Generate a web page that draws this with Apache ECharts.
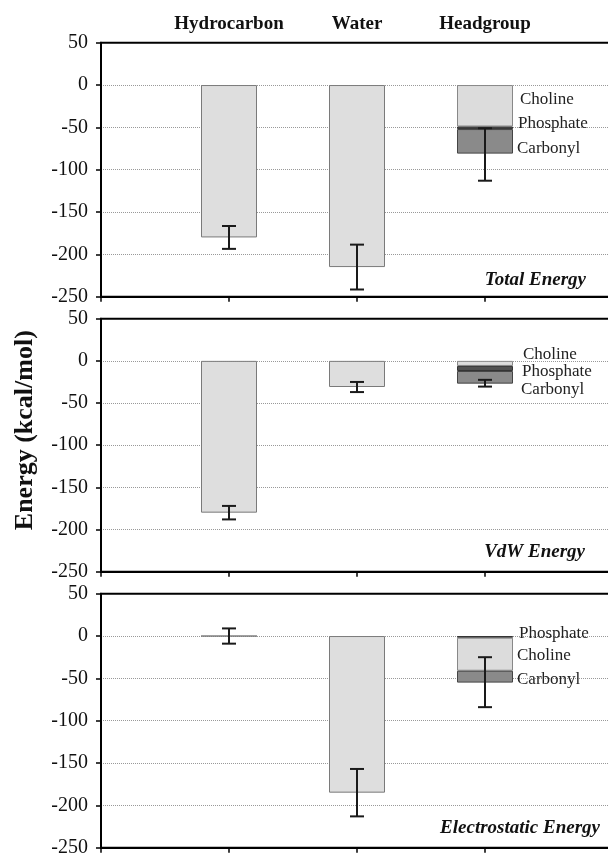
<!DOCTYPE html>
<html>
<head>
<meta charset="utf-8">
<script src="https://cdn.jsdelivr.net/npm/echarts@6/dist/echarts.min.js"></script>
<style>html,body{margin:0;padding:0;background:#fff}#c{width:608px;height:856px}</style>
</head>
<body>
<div id="c"></div>
<script>
// ---- data ----
const categories = ['', 'Hydrocarbon', 'Water', 'Headgroup', ''];
const yTicks = [50, 0, -50, -100, -150, -200, -250];
const panelTitles = ['Total Energy', 'VdW Energy', 'Electrostatic Energy'];

// Hydrocarbon / Water bars per panel
const totalMain = [null, -180, -215, null, null];
const vdwMain = [null, -180, -31, null, null];
const elecMain = [null, 0, -185, null, null];

// Headgroup components (stack order from zero outward)
const totalHead = { names: ['Choline', 'Phosphate', 'Carbonyl'], values: [-49, -3, -29] };
const vdwHead = { names: ['Choline', 'Phosphate', 'Carbonyl'], values: [-6, -6, -15] };
const elecHead = { names: ['Phosphate', 'Choline', 'Carbonyl'], values: [-2, -39, -14] };

// error bars: [category index, upper, lower]
const totalErr = [[1, -166.5, -193.5], [2, -188.5, -241.5], [3, -51, -113]];
const vdwErr = [[1, -172, -188], [2, -25, -37], [3, -22.5, -30.5]];
const elecErr = [[1, 9, -9], [2, -157, -213], [3, -25, -84]];

// ---- styling / layout ----
const serif = 'Liberation Serif';
const grids = [
  { left: 101, top: 42.7, height: 254, width: 512 },
  { left: 101, top: 318.7, height: 253, width: 512 },
  { left: 101, top: 593.7, height: 254, width: 512 }
];
const compColor = { Choline: '#dcdcdc', Phosphate: '#505050', Carbonyl: '#8a8a8a' };
const compBorder = { Choline: '#888', Phosphate: '#333', Carbonyl: '#444' };
const labelOffsets = [
  { Choline: [2, -6], Phosphate: [0, -4], Carbonyl: [-1, 7] },
  { Choline: [5, -8.5], Phosphate: [4, 3], Carbonyl: [3, 12.5] },
  { Phosphate: [1, -3.5], Choline: [-1, 1], Carbonyl: [-1, 3] }
];
const titlePos = [
  { right: 22, top: 271 },
  { right: 23, top: 543 },
  { right: 8, top: 819 }
];

const mains = [totalMain, vdwMain, elecMain];
const heads = [totalHead, vdwHead, elecHead];
const errs = [totalErr, vdwErr, elecErr];

const xAxes = [], yAxes = [], series = [], titles = [];
for (let i = 0; i < 3; i++) {
  xAxes.push({
    type: 'category', gridIndex: i, data: categories, boundaryGap: false,
    axisLine: { show: true, onZero: false, lineStyle: { color: '#000', width: 2 } },
    axisTick: { show: true, length: 5, lineStyle: { color: '#000', width: 1.5 } },
    axisLabel: { show: false }, splitLine: { show: false }
  });
  yAxes.push({
    type: 'value', gridIndex: i, min: -250, max: 50, interval: 50,
    axisLine: { show: true, onZero: false, lineStyle: { color: '#000', width: 2 } },
    axisTick: { show: true, length: 5, lineStyle: { color: '#000', width: 1.5 } },
    axisLabel: { fontFamily: serif, fontSize: 20, color: '#111', margin: 13 },
    splitLine: { show: true, showMinLine: false, showMaxLine: false, lineStyle: { type: 'dotted', color: '#999', width: 1 } },
    name: i === 1 ? 'Energy (kcal/mol)' : '',
    nameLocation: 'middle', nameGap: 63,
    nameTextStyle: { fontFamily: serif, fontSize: 26, fontWeight: 'bold', color: '#111', padding: [0, 0, 0, 30] }
  });
  series.push({
    type: 'bar', name: 'main' + i, xAxisIndex: i, yAxisIndex: i, stack: 's' + i,
    data: mains[i], barWidth: 56,
    itemStyle: { color: '#dedede', borderColor: '#7a7a7a', borderWidth: 1 }
  });
  const h = heads[i];
  h.names.forEach((nm, k) => {
    const d = [null, null, null, h.values[k], null];
    series.push({
      type: 'bar', name: nm, xAxisIndex: i, yAxisIndex: i, stack: 's' + i,
      data: d, barWidth: 56,
      itemStyle: { color: compColor[nm], borderColor: compBorder[nm], borderWidth: 1 },
      label: {
        show: true, position: 'right', distance: 5, formatter: '{a}',
        offset: labelOffsets[i][nm],
        fontFamily: serif, fontSize: 17, color: '#222'
      }
    });
  });
  series.push({
    type: 'custom', xAxisIndex: i, yAxisIndex: i, data: errs[i],
    encode: { x: 0, y: [1, 2] }, z: 10,
    renderItem: function (params, api) {
      const x = api.value(0);
      const a = api.coord([x, api.value(1)]);
      const b = api.coord([x, api.value(2)]);
      const hw = 7;
      const st = { stroke: '#1a1a1a', lineWidth: 2 };
      return {
        type: 'group', children: [
          { type: 'line', shape: { x1: a[0], y1: a[1], x2: b[0], y2: b[1] }, style: st },
          { type: 'line', shape: { x1: a[0] - hw, y1: a[1], x2: a[0] + hw, y2: a[1] }, style: st },
          { type: 'line', shape: { x1: b[0] - hw, y1: b[1], x2: b[0] + hw, y2: b[1] }, style: st }
        ]
      };
    }
  });
  titles.push({
    text: panelTitles[i], right: titlePos[i].right, top: titlePos[i].top, padding: 0,
    textStyle: { fontFamily: serif, fontSize: 19, fontWeight: 'bold', fontStyle: 'italic', color: '#111' }
  });
}
// column headers on top of first panel
xAxes.push({
  type: 'category', gridIndex: 0, data: categories, boundaryGap: false, position: 'top',
  axisLine: { show: false, onZero: false }, axisTick: { show: false }, splitLine: { show: false },
  axisLabel: { show: true, interval: 0, fontFamily: serif, fontSize: 19, fontWeight: 'bold', color: '#111', margin: 9 }
});

const chart = echarts.init(document.getElementById('c'), null, { renderer: 'canvas' });
chart.setOption({
  animation: false,
  backgroundColor: '#fff',
  title: titles,
  grid: grids.map(g => Object.assign({
    show: true, borderColor: '#000', borderWidth: 2, backgroundColor: 'transparent',
    containLabel: false, outerBoundsMode: 'none'
  }, g)),
  xAxis: xAxes,
  yAxis: yAxes,
  series: series
});
</script>
</body>
</html>
